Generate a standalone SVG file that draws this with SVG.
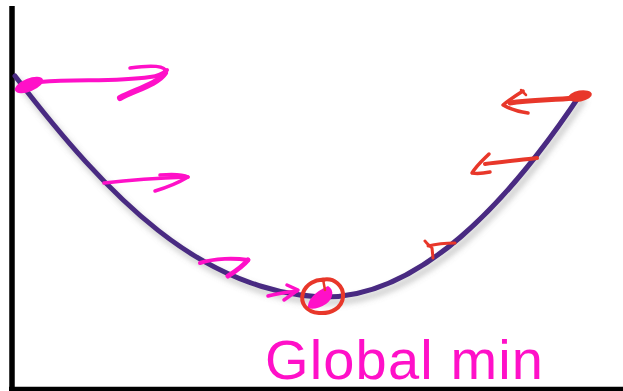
<svg xmlns="http://www.w3.org/2000/svg" width="623" height="391" viewBox="0 0 623 391">
<style>
.mag{fill:none;stroke:#ff10c8;stroke-linecap:round;stroke-linejoin:round}
.red{fill:none;stroke:#e8372a;stroke-linecap:round;stroke-linejoin:round}
.curve{fill:none;stroke:#4a2a82;stroke-width:5;stroke-linecap:round}
.axis{stroke:#000;stroke-width:5.5;fill:none}
.lbl{font-family:"Liberation Sans",Arial,sans-serif;font-size:56px;fill:#ff10c8}
</style>
<defs>
<filter id="sh" x="-10%" y="-10%" width="130%" height="140%">
<feDropShadow dx="3" dy="5" stdDeviation="3" flood-color="#777" flood-opacity="0.45"/>
</filter>
</defs>
<rect width="623" height="391" fill="#fff"/>
<g id="axes">
<line class="axis" x1="12" y1="6" x2="12" y2="391"/>
<line class="axis" x1="9" y1="389.5" x2="623" y2="389.5"/>
</g>
<g id="curve">
<path class="curve" filter="url(#sh)" d="M15,76 C110,200 200,290 320,297 C420,300 510,200 580,95"/>
</g>
<g id="connectors">
<g id="m1">
<ellipse cx="29" cy="85" rx="15" ry="6.5" transform="rotate(-22 29 85)" fill="#ff10c8"/>
<path class="mag" stroke-width="4" d="M40,82 C80,79 115,82 150,77 C160,76 165,72 167,70"/>
<path class="mag" stroke-width="3.5" d="M130,68 C150,65 168,65 165,73"/>
<path class="mag" stroke-width="6" d="M165,73 C158,84 135,90 120,98"/>
</g>
<g id="m2">
<path class="mag" stroke-width="3.5" d="M104,183 C130,180 160,178 188,177"/>
<path class="mag" stroke-width="3.5" d="M160,175 C172,174 182,174 188,177 C178,183 165,188 155,191"/>
</g>
<g id="m3">
<path class="mag" stroke-width="4" d="M200,263 C215,258 235,258 248,260"/>
<path class="mag" stroke-width="5" d="M248,260 C243,266 236,271 228,276"/>
</g>
<g id="m4">
<path class="mag" stroke-width="3.5" d="M268,296 C278,293 288,292 297,291"/>
<path class="mag" stroke-width="3.5" d="M287,285 L298,290 L284,300"/>
</g>
<g id="minpt">
<path d="M328,286 C335,290 333,299 326,304 C320,308 312,310 308,308 C307,301 314,292 328,286 Z" fill="#ff10c8"/>
<path class="red" stroke-width="4" d="M322,280 C334,277 344,286 343,297 C342,308 331,314 319,313 C306,312 300,303 303,293 C306,284 316,279 324,280"/>
<path class="red" stroke-width="2.5" d="M323,279 L325,290"/>
</g>
<g id="r1">
<ellipse cx="580" cy="96" rx="12" ry="5.5" transform="rotate(-10 580 96)" fill="#e8372a"/>
<path class="red" stroke-width="5" d="M573,98 C555,100 530,100 510,103"/>
<path class="red" stroke-width="3.5" d="M523,91 C515,96 509,100 503,105 C510,109 520,112 528,113"/>
<path class="red" stroke-width="2.5" d="M521,90 L526,95"/>
</g>
<g id="r2">
<path class="red" stroke-width="4" d="M537,158 C520,160 500,162 485,164"/>
<path class="red" stroke-width="3.5" d="M489,154 C483,160 477,165 472,173 C478,174 485,173 490,172"/>
</g>
<g id="r3">
<path class="red" stroke-width="3" d="M455,243 C445,243 436,244 428,246"/>
<path class="red" stroke-width="3" d="M425,241 C427,244 430,246 432,248 L433,258"/>
</g>
</g>
<g id="label">
<text class="lbl" x="265" y="379" textLength="278" lengthAdjust="spacing">Global min</text>
</g>
</svg>
